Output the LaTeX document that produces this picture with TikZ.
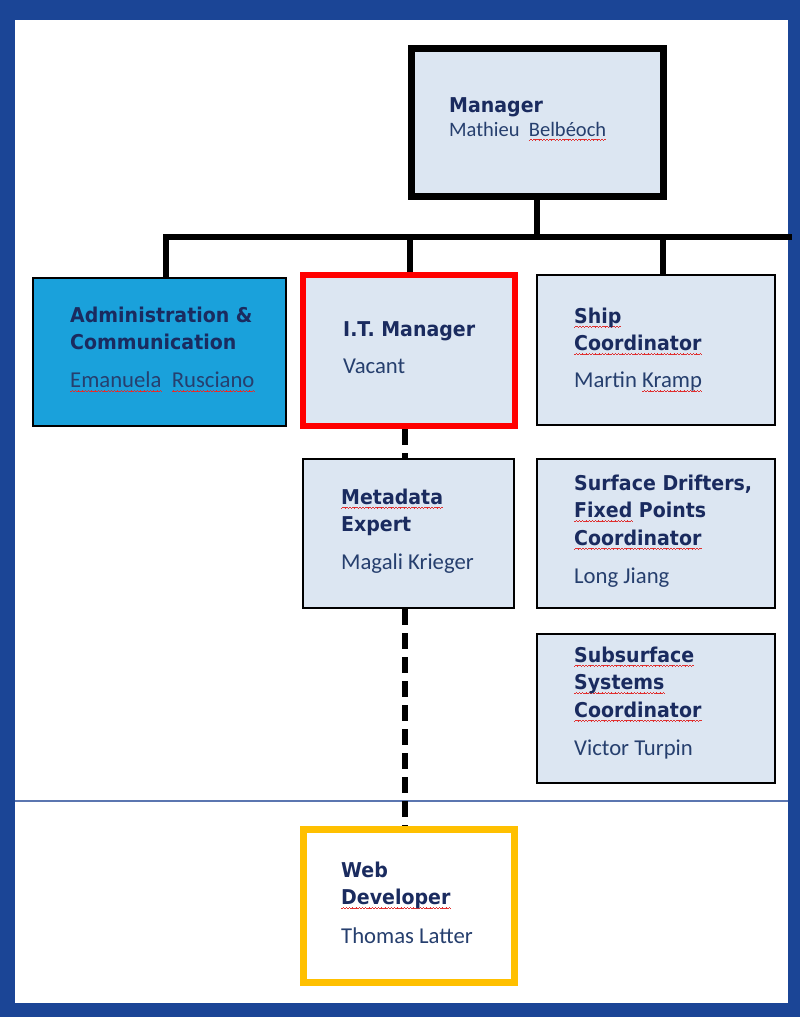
\documentclass[tikz,border=0pt]{standalone}
\usepackage{fontspec}
\newfontfamily\titlef{DejaVu Sans}[FakeStretch=0.93]
\newfontfamily\namef{Carlito}
\definecolor{frameblue}{HTML}{1B4596}
\definecolor{boxfill}{HTML}{DCE6F2}
\definecolor{adminblue}{HTML}{1AA1DB}
\definecolor{itred}{HTML}{FF0000}
\definecolor{webyellow}{HTML}{FFC000}
\definecolor{ttl}{HTML}{1A2B5F}
\definecolor{nm}{HTML}{263F6E}
\definecolor{divcol}{HTML}{5B76B0}
\definecolor{spell}{HTML}{E03030}
\newsavebox\spellbox
\newcommand\spellwave[1]{\leavevmode\sbox\spellbox{#1}\rlap{\color{spell}\hbox to\wd\spellbox{\xleaders\hbox{\rule[-4.4pt]{0.8pt}{0.7pt}\rule[-3.8pt]{0.8pt}{0.7pt}\rule[-3.2pt]{0.8pt}{0.7pt}\rule[-3.8pt]{0.8pt}{0.7pt}}\hfill}}\usebox\spellbox}
\newcommand\nameline[1]{\leavevmode{\namef\mdseries\fontsize{22.7}{27.5}\selectfont\color{nm}#1}}
\newcommand\titleblock[1]{\parbox[t]{220pt}{\raggedright\titlef\bfseries\fontsize{20.4}{27.5}\selectfont #1}}
\pgfdeclarelayer{bg}
\pgfsetlayers{bg,main}
\tikzset{
  box/.style={draw=black, rectangle, inner sep=0pt, fill=boxfill, line width=2pt},
  conn/.style={draw=black, line width=5.5pt, line join=miter},
  dashconn/.style={draw=black, line width=6pt, dash pattern=on 16pt off 8pt},
  divider/.style={draw=divcol, line width=2pt},
  txt/.style={inner sep=0pt, anchor=base west, text=ttl}
}
\begin{document}
\begin{tikzpicture}[x=1pt,y=-1pt]
\useasboundingbox (0,0) rectangle (800,1017);
\begin{pgfonlayer}{bg}
\fill[frameblue] (0,0) rectangle (800,1017);
\fill[white] (15,20) rectangle (788,1003);
\end{pgfonlayer}

% boxes
\node[box, line width=7pt, minimum width=252pt, minimum height=148pt] (mgr) at (537,122) {};
\node[box, fill=adminblue, minimum width=253pt, minimum height=148pt] (admin) at (159.5,352) {};
\node[box, draw=itred, line width=6.5pt, minimum width=212pt, minimum height=151pt] (it) at (409,350.5) {};
\node[box, minimum width=238pt, minimum height=150pt] (ship) at (656,350) {};
\node[box, minimum width=211pt, minimum height=149pt] (meta) at (408,533.5) {};
\node[box, minimum width=238pt, minimum height=149pt] (surf) at (656,533.5) {};
\node[box, minimum width=238pt, minimum height=149pt] (subs) at (656,708.5) {};
\node[box, draw=webyellow, fill=white, line width=7pt, minimum width=211pt, minimum height=153pt] (web) at (409,906) {};

% connectors
\coordinate (busL) at (166,237);
\coordinate (busR) at (792,237);
\coordinate (itdrop) at (410,237);
\coordinate (shipdrop) at (663,237);
\coordinate (dashx) at (405,0);
\coordinate (divL) at (15,801);
\coordinate (divR) at (788,801);
\begin{pgfonlayer}{bg}
\draw[divider] (divL) -- (divR);
\draw[conn] (admin.north -| busL) -- (busL) -- (busR);
\draw[conn] (mgr.south) -- (mgr.south |- busL);
\draw[conn] (itdrop) -- (itdrop |- it.north);
\draw[conn] (shipdrop) -- (shipdrop |- ship.north);
\draw[dashconn] (it.south -| dashx) -- (meta.north -| dashx);
\draw[dashconn] (meta.south -| dashx) -- (web.north -| dashx);
\end{pgfonlayer}

% texts
\node[txt] (mgrT) at (449,112) {\parbox[t]{200pt}{\raggedright\titlef\bfseries\fontsize{20.4}{24}\selectfont Manager\\{\namef\mdseries\fontsize{20.5}{24}\selectfont\color{nm}Mathieu\ \ \spellwave{Belbéoch}}}};
\node[txt] (adminT) at (70,322) {\titleblock{Administration \&\\Communication\\[10.5pt]\nameline{\spellwave{Emanuela}\ \ \spellwave{Rusciano}}}};
\node[txt] (itT) at (343,336) {\titleblock{I.T. Manager\\[9.5pt]\nameline{Vacant}}};
\node[txt] (shipT) at (574,323) {\titleblock{\spellwave{Ship}\\\spellwave{Coordinator}\\[9.5pt]\nameline{Martin\ \spellwave{Kramp}}}};
\node[txt] (metaT) at (341,504) {\titleblock{\spellwave{Metadata}\\Expert\\[10pt]\nameline{Magali Krieger}}};
\node[txt] (surfT) at (574,490) {\titleblock{Surface Drifters,\\\spellwave{Fixed} Points\\\spellwave{Coordinator}\\[10.5pt]\nameline{Long Jiang}}};
\node[txt] (subsT) at (574,662) {\titleblock{\spellwave{Subsurface}\\\spellwave{Systems}\\\spellwave{Coordinator}\\[11pt]\nameline{Victor Turpin}}};
\node[txt] (webT) at (341,877) {\titleblock{Web\\\spellwave{Developer}\\[11pt]\nameline{Thomas Latter}}};
\end{tikzpicture}
\end{document}
